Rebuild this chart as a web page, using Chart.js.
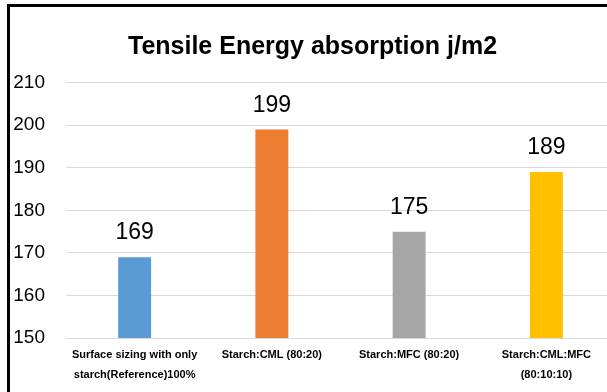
<!DOCTYPE html>
<html>
<head>
<meta charset="utf-8">
<script src="https://cdn.jsdelivr.net/npm/chart.js@4.4.1/dist/chart.umd.min.js"></script>
<style>
    html, body { margin: 0; padding: 0; background: #fff; overflow: hidden; }
    #wrap { position: relative; width: 607px; height: 392px; overflow: hidden; }
    .line { position: absolute; background: #000; pointer-events: none; }
    #lineLeft { left: 7px; top: 4px; width: 3px; height: 388px; }
    #lineTop { left: 7px; top: 4px; width: 620px; height: 3px; }
    canvas { position: absolute; left: 0; top: 0; background: #fff; }
</style>
</head>
<body>
<div id="wrap">
    <canvas id="chart" width="620" height="392"></canvas>
    <div class="line" id="lineLeft"></div>
    <div class="line" id="lineTop"></div>
</div>
<script>
const categories = [
    ['Surface sizing with only', 'starch(Reference)100%'],
    ['Starch:CML (80:20)'],
    ['Starch:MFC (80:20)'],
    ['Starch:CML:MFC', '(80:10:10)']
];
const values = [169, 199, 175, 189];
const barColors = ['#5B9BD5', '#ED7D31', '#A5A5A5', '#FFC000'];
const yTicks = [150, 160, 170, 180, 190, 200, 210];

const fontName = '"Liberation Sans", Arial, sans-serif';

// value above each bar
const valueLabels = {
    id: 'valueLabels',
    afterDatasetsDraw(chart) {
        const ctx = chart.ctx;
        const meta = chart.getDatasetMeta(0);
        ctx.save();
        ctx.font = '23px ' + fontName;
        ctx.fillStyle = '#000';
        ctx.textAlign = 'center';
        ctx.textBaseline = 'alphabetic';
        meta.data.forEach((bar, i) => {
            ctx.fillText(values[i], bar.x, bar.y - 18);
        });
        ctx.restore();
    }
};

new Chart(document.getElementById('chart').getContext('2d'), {
    type: 'bar',
    data: {
        labels: categories,
        datasets: [{
            data: values,
            backgroundColor: barColors,
            borderWidth: 0,
            barPercentage: 0.24,
            categoryPercentage: 1
        }]
    },
    options: {
        responsive: false,
        animation: false,
        devicePixelRatio: 1,
        layout: { padding: { left: 10, right: 5, top: 0, bottom: 0 } },
        plugins: {
            legend: { display: false },
            tooltip: { enabled: false },
            title: {
                display: true,
                text: 'Tensile Energy absorption j/m2',
                color: '#000',
                font: { family: fontName, size: 25, weight: 'bold', lineHeight: 1.2 },
                padding: { top: 32, bottom: 20.7 }
            }
        },
        scales: {
            x: {
                grid: { display: false, drawTicks: false },
                border: { display: true, color: '#D9D9D9', width: 1 },
                ticks: {
                    color: '#000',
                    padding: 7,
                    maxRotation: 0,
                    autoSkip: false,
                    font: { family: fontName, size: 11, weight: 'bold', lineHeight: 1.8 }
                },
                afterFit: (axis) => { axis.height = 54; }
            },
            y: {
                min: yTicks[0],
                max: yTicks[yTicks.length - 1],
                grid: { color: '#D9D9D9', lineWidth: 1, drawTicks: false },
                border: { display: false },
                ticks: {
                    stepSize: 10,
                    color: '#000',
                    padding: 21,
                    font: { family: fontName, size: 19 }
                },
                afterFit: (axis) => { axis.width = 56; }
            }
        }
    },
    plugins: [valueLabels]
});
</script>
</body>
</html>
